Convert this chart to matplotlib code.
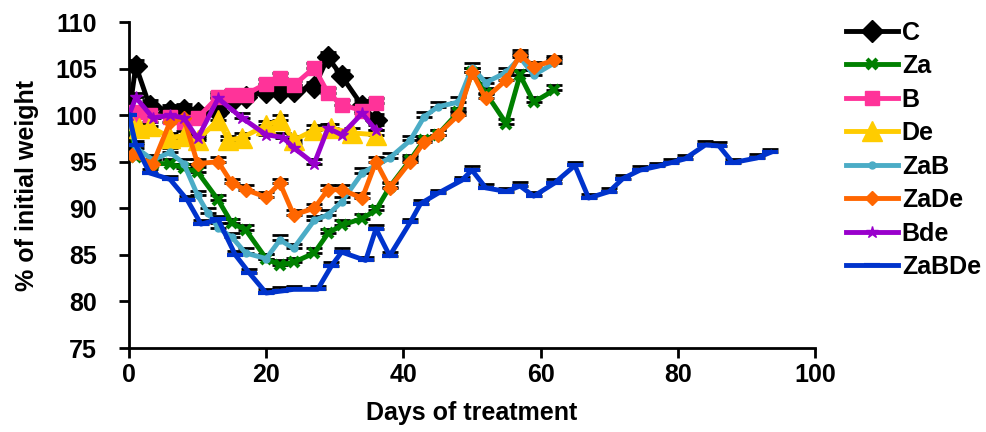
import numpy as np
import matplotlib.pyplot as plt

plt.rcParams['font.family'] = ['Liberation Sans', 'DejaVu Sans']
plt.rcParams['font.weight'] = 'bold'

# 数据
days_C = [0, 1, 3, 6, 8, 10, 13, 15, 17, 20, 22, 24, 27, 29, 31, 34, 36]
C = [100, 105.3, 101, 100.5, 100.6, 100.2, 100.3, 101.5, 102, 102.5, 102.5, 102.6, 103, 106.2, 104.2, 101, 99.5]

days_Za = [0, 1, 3.5, 6, 8, 10, 13, 15, 17, 20, 22, 24, 27, 29, 31, 34, 36, 38, 41, 43, 45, 48, 50, 52, 55, 57, 59, 62]
Za = [100, 95.5, 94.8, 94.8, 94.3, 93.9, 90.9, 88.4, 87.7, 84.6, 83.9, 84.2, 85.2, 87.3, 88.2, 88.9, 89.8, 92.3,
      95.2, 97.3, 97.9, 100.3, 104.6, 102.4, 99.1, 104.3, 101.4, 102.7]

days_B = [0, 1, 3, 6, 8, 10, 13, 15, 17, 20, 22, 24, 27, 29, 31, 34, 36]
B = [100, 100.3, 100, 99.8, 99.3, 99.7, 102, 102.2, 102.2, 103.4, 104, 103.2, 105.1, 102.4, 101.1, 100.5, 101.3]

days_De = [0, 1.5, 3, 6, 8, 10, 13, 14.5, 16.5, 20, 22, 24, 27, 29.5, 32.5, 36]
De = [99.5, 98.6, 98.8, 97.6, 97.8, 97.3, 99.5, 97.3, 97.6, 98.9, 99.5, 97.3, 98.4, 98.6, 98.1, 97.9]

days_ZaB = [0, 1, 3.5, 6, 8, 10, 11.5, 13, 15, 17, 20, 22, 24, 27, 29, 31, 34, 38, 41, 43, 45, 48, 50, 52, 55, 57, 59, 62]
ZaB = [100, 96.5, 95.2, 96, 94.8, 91.4, 89.5, 87.9, 86.9, 85.2, 84.6, 86.6, 85.7, 88.7, 89.3, 90.7, 93.8, 95.4,
       97.3, 99.8, 100.9, 101.4, 105.1, 103.5, 104.6, 106.2, 104.3, 105.6]

days_ZaDe = [0.5, 3.5, 6, 8, 10, 13, 15, 17, 20, 22, 24, 27, 29, 31, 34, 36, 38, 41, 43, 45, 48, 50, 52, 55, 57, 59, 62]
ZaDe = [95.7, 94.8, 99.3, 99.7, 94.8, 95, 92.7, 92, 91.2, 92.7, 89.3, 90, 92, 92, 91.1, 95, 92.2,
        95, 97.1, 97.9, 100, 104.6, 101.8, 103.8, 106.5, 105.2, 105.9]

days_Bde = [0, 1, 3.5, 6, 8, 10, 13, 16.5, 20, 22.5, 24, 27, 29, 31, 34, 36]
Bde = [100, 101.9, 99.7, 100, 99.7, 97.5, 101.8, 99.7, 97.9, 97.6, 96.5, 94.8, 98.6, 97.9, 100.2, 98.4]

days_ZaBDe = [0, 1, 3, 6, 8.5, 10.5, 13, 15.5, 17.5, 20, 22, 24, 27.5, 29.5, 31, 34.5, 36, 38, 41, 42.5, 45, 48.5,
              50, 52, 55, 57, 59, 62, 65, 67, 70, 72, 74.5, 77, 79, 81, 84, 86, 88, 91.5, 93.5]
ZaBDe = [100, 96.8, 93.8, 93.1, 90.9, 88.3, 88.8, 85.0, 83.1, 80.9, 81.1, 81.3, 81.3, 83.8, 85.3, 84.4, 87.8, 84.9,
         88.5, 90.5, 91.6, 93.0, 94.1, 92.2, 91.8, 92.4, 91.3, 92.7, 94.6, 91.1, 91.8, 93.2, 94.1, 94.5, 94.9,
         95.3, 96.8, 96.7, 94.9, 95.4, 96.0]

# 误差 (上侧)
err = {'C': 0.6, 'Za': 0.5, 'B': 0.5, 'De': 0.5, 'ZaB': 0.5, 'ZaDe': 0.5, 'Bde': 0.5, 'ZaBDe': 0.4}

series = [
    ('C', days_C, C, '#000000', 'D', 11),
    ('Za', days_Za, Za, '#008000', 'x', 7),
    ('B', days_B, B, '#FF3399', 's', 10),
    ('De', days_De, De, '#FFCC00', '^', 14),
    ('ZaB', days_ZaB, ZaB, '#4BACC6', 'o', 5),
    ('ZaDe', days_ZaDe, ZaDe, '#FF6600', 'D', 7),
    ('Bde', days_Bde, Bde, '#9900CC', '*', 9),
    ('ZaBDe', days_ZaBDe, ZaBDe, '#0033CC', '_', 12),
]

fig = plt.figure(figsize=(9.86, 4.32), dpi=100)
ax = fig.add_axes([0.1308, 0.1944, 0.6958, 0.7546])

for i, (name, d, v, c, m, ms) in enumerate(series):
    v = np.array(v)
    ax.errorbar(d, v, yerr=[np.zeros_like(v), np.full_like(v, err[name])], fmt='none',
                ecolor='black', elinewidth=1.5, capsize=6, capthick=2, zorder=2 + i * 0.1)
    mew = 3 if m in ('x', '_') else 1
    ax.plot(d, v, color=c, lw=3.5, marker=m, markersize=ms, markeredgewidth=mew,
            markeredgecolor=c, label=name, zorder=3 + i * 0.1)

ax.set_xlim(0, 100)
ax.set_ylim(75, 110)
ax.set_xticks(range(0, 101, 20))
ax.set_yticks(range(75, 111, 5))
ax.spines['top'].set_visible(False)
ax.spines['right'].set_visible(False)
ax.spines['left'].set_linewidth(2)
ax.spines['bottom'].set_linewidth(2)
ax.tick_params(direction='out', length=7, width=2, labelsize=18)
ax.tick_params(axis='y', pad=16)
ax.tick_params(axis='x', pad=4)
ax.set_xlabel('Days of treatment', fontsize=18, fontweight='bold', labelpad=10)
ax.set_ylabel('% of initial weight', fontsize=18, fontweight='bold', labelpad=12)

ax.legend(loc='upper left', bbox_to_anchor=(1.03, 1.035), frameon=False, fontsize=18,
          handlelength=2.1, handletextpad=0.15, labelspacing=0.38, borderaxespad=0)

plt.savefig('out.png', dpi=100)
